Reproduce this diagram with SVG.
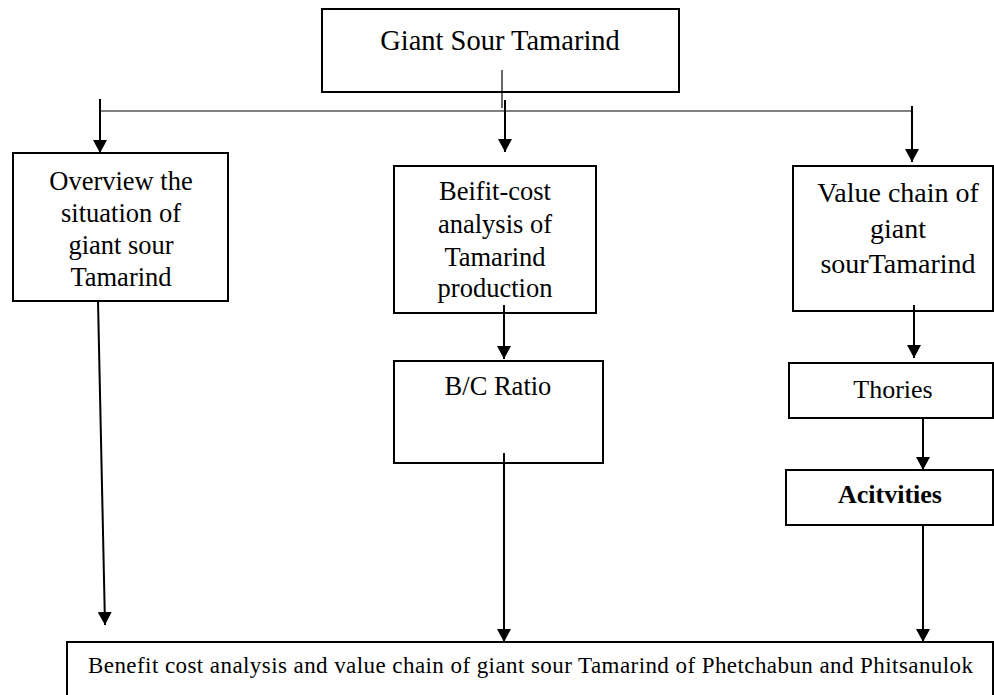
<svg xmlns="http://www.w3.org/2000/svg" width="994" height="695" viewBox="0 0 994 695">
<style>
.box{fill:#fff;stroke:#000;stroke-width:2}
.t{font-family:"Liberation Serif","Times New Roman",serif;fill:#000;text-anchor:middle}
.c{fill:none;stroke:#000;stroke-width:2}
.thin{fill:none;stroke:#000;stroke-width:1.2}
</style>
<defs>
<marker id="ah" viewBox="0 0 13 14" refX="13" refY="7" markerWidth="13" markerHeight="14" markerUnits="userSpaceOnUse" orient="auto">
<path d="M0,0 L13,7 L0,14 z" fill="#000"/>
</marker>
</defs>
<rect width="994" height="695" fill="#fff"/>
<g id="top">
<rect class="box" x="322" y="9" width="357" height="83"/>
<text class="t" x="500" y="50" font-size="28.5">Giant Sour Tamarind</text>
</g>
<g id="overview">
<rect class="box" x="13" y="153" width="215" height="148"/>
<text class="t" font-size="26.5"><tspan x="121" y="190">Overview the</tspan><tspan x="121" y="222">situation of</tspan><tspan x="121" y="254">giant sour</tspan><tspan x="121" y="286">Tamarind</tspan></text>
</g>
<g id="benefit">
<rect class="box" x="394" y="166" width="202" height="147"/>
<text class="t" font-size="26.5"><tspan x="495" y="200">Beifit-cost</tspan><tspan x="495" y="233">analysis of</tspan><tspan x="495" y="266">Tamarind</tspan><tspan x="495" y="297">production</tspan></text>
</g>
<g id="bcratio">
<rect class="box" x="394" y="361" width="209" height="102"/>
<text class="t" x="498" y="395" font-size="26.5">B/C Ratio</text>
</g>
<g id="valuechain">
<rect class="box" x="793" y="166" width="200" height="145"/>
<text class="t" font-size="28"><tspan x="898" y="202">Value chain of</tspan><tspan x="898" y="238">giant</tspan><tspan x="898" y="273">sourTamarind</tspan></text>
</g>
<g id="thories">
<rect class="box" x="789" y="363" width="204" height="55"/>
<text class="t" x="893" y="398" font-size="26">Thories</text>
</g>
<g id="activities">
<rect class="box" x="786" y="470" width="207" height="55"/>
<text class="t" x="890" y="503" font-size="26" font-weight="bold">Acitvities</text>
</g>
<g id="result">
<rect class="box" x="67" y="642" width="926" height="60"/>
<text font-family="Liberation Serif,Times New Roman,serif" font-size="23" x="88" y="673" textLength="885" lengthAdjust="spacing">Benefit cost analysis and value chain of giant sour Tamarind of Phetchabun and Phitsanulok</text>
</g>
<g id="connectors">
<line class="thin" x1="502" y1="70" x2="502" y2="108"/>
<line class="thin" x1="100" y1="111" x2="912" y2="111"/>
<line class="c" x1="100" y1="99" x2="100" y2="153" marker-end="url(#ah)"/>
<line class="c" x1="505" y1="100" x2="505" y2="152" marker-end="url(#ah)"/>
<line class="c" x1="912" y1="106" x2="912" y2="162" marker-end="url(#ah)"/>
<line class="c" x1="504" y1="305" x2="504" y2="359" marker-end="url(#ah)"/>
<line class="c" x1="914" y1="305" x2="914" y2="358" marker-end="url(#ah)"/>
<line class="c" x1="923" y1="418" x2="923" y2="470" marker-end="url(#ah)"/>
<line class="c" x1="98" y1="301" x2="105" y2="625" marker-end="url(#ah)"/>
<line class="c" x1="504" y1="453" x2="504" y2="642" marker-end="url(#ah)"/>
<line class="c" x1="923" y1="525" x2="923" y2="642" marker-end="url(#ah)"/>
</g>
</svg>
